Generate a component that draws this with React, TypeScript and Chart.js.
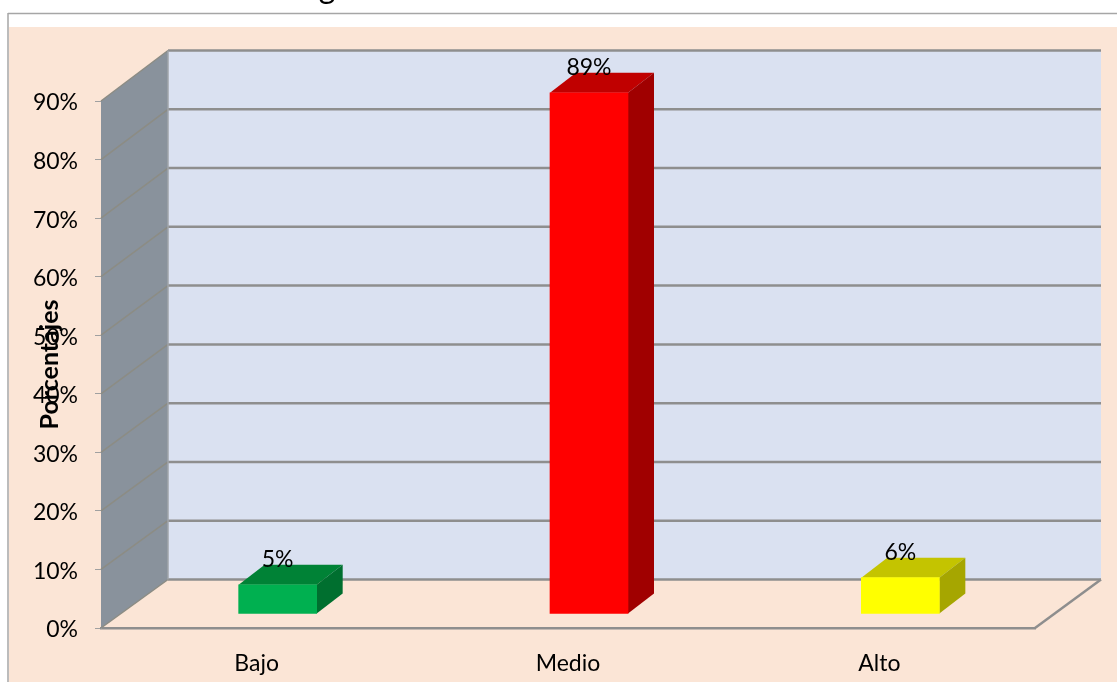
import React, { useEffect, useRef } from "react";
import { Chart, registerables } from "chart.js";

Chart.register(...registerables);

const categories = ["Bajo", "Medio", "Alto"];
const percentages = [5, 89, 6.2];
const yTicks = [0, 10, 20, 30, 40, 50, 60, 70, 80, 90];
const faceColors = ["#00b050", "#ff0000", "#ffff00"];
const topColors = ["#008236", "#c00000", "#c4c400"];
const sideColors = ["#006f2f", "#a00000", "#a6a600"];
const axisTitle = "Porcentajes";
const clippedTitleGlyph = "g";

const FONT = "Lato, 'Open Sans', sans-serif";
const PAGE_BG = "#ffffff";
const PEACH = "#fbe5d6";
const WALL = "#dae1f1";
const SIDE = "#89929c";
const GRID = "#8e8e8e";
const FRAME = "#a6a6a6";
const DEPTH_X = 67;
const BAR_DX = 21;
const BAR_DY = -14;
const BAR_DEPTH_X = 26;
const BAR_DEPTH_Y = -20;
const TICK_LABEL_SHIFT = 1;

const poly = (ctx: CanvasRenderingContext2D, pts: number[][], fill: string) => {
  ctx.beginPath();
  pts.forEach(([x, y], i) => (i ? ctx.lineTo(x, y) : ctx.moveTo(x, y)));
  ctx.closePath();
  ctx.fillStyle = fill;
  ctx.fill();
};

const line = (ctx: CanvasRenderingContext2D, a: number[], b: number[], color: string, w: number) => {
  ctx.beginPath();
  ctx.moveTo(a[0], a[1]);
  ctx.lineTo(b[0], b[1]);
  ctx.strokeStyle = color;
  ctx.lineWidth = w;
  ctx.stroke();
};

const scene = {
  id: "scene",
  beforeDraw(chart: any) {
    const { ctx, width, height } = chart;
    ctx.save();
    ctx.fillStyle = PAGE_BG;
    ctx.fillRect(0, 0, width, height);
    ctx.fillStyle = PEACH;
    ctx.fillRect(9, 27, width - 9, height - 27);
    line(ctx, [8, 13.5], [width, 13.5], FRAME, 1.5);
    line(ctx, [8, 13], [8, height], FRAME, 1.5);
    ctx.fillStyle = "#000";
    ctx.font = `32px ${FONT}`;
    ctx.textAlign = "center";
    ctx.textBaseline = "alphabetic";
    ctx.fillText(clippedTitleGlyph, 327, -2);
    ctx.restore();
  },
  beforeDatasetsDraw(chart: any) {
    const { ctx, chartArea, scales } = chart;
    const { left, right } = chartArea;
    const y = scales.y;
    const back = (v: number) => y.getPixelForValue(v) - 48.5 - (2 * v) / 90;
    const b0 = back(yTicks[0]);
    const bTop = back(yTicks[yTicks.length - 1]);
    const front0 = y.getPixelForValue(yTicks[0]);
    const frontTop = y.getPixelForValue(yTicks[yTicks.length - 1]);
    const backL = left + DEPTH_X;
    const backR = right + DEPTH_X - 1;

    ctx.save();
    poly(ctx, [[backL, bTop], [backR, bTop], [backR, b0], [backL, b0]], WALL);
    poly(ctx, [[left, frontTop], [backL, bTop], [backL, b0], [left, front0]], SIDE);
    yTicks.forEach((v) => {
      line(ctx, [left, y.getPixelForValue(v)], [backL, back(v)], "#8c8c84", 1.5);
      line(ctx, [backL, back(v)], [backR, back(v)], GRID, 2.5);
    });
    line(ctx, [backL, bTop], [backL, b0], "#a0a4aa", 1.5);
    line(ctx, [right, front0], [backR, b0], GRID, 2.5);

    const meta = chart.getDatasetMeta(0);
    meta.data.forEach((bar: any, i: number) => {
      const half = bar.width / 2;
      const l = bar.x - half + BAR_DX;
      const r = bar.x + half + BAR_DX;
      const t = bar.y + BAR_DY;
      const b = bar.base + BAR_DY;
      poly(ctx, [[l, t], [l + BAR_DEPTH_X, t + BAR_DEPTH_Y], [r + BAR_DEPTH_X, t + BAR_DEPTH_Y], [r, t]], topColors[i]);
      poly(ctx, [[r, t], [r + BAR_DEPTH_X, t + BAR_DEPTH_Y], [r + BAR_DEPTH_X, b + BAR_DEPTH_Y], [r, b]], sideColors[i]);
    });
    ctx.restore();

    ctx.save();
    ctx.translate(BAR_DX, BAR_DY);
  },
  afterDatasetsDraw(chart: any) {
    const { ctx } = chart;
    ctx.restore();
    const meta = chart.getDatasetMeta(0);
    ctx.save();
    ctx.fillStyle = "#000";
    ctx.font = `23px ${FONT}`;
    ctx.textAlign = "center";
    ctx.textBaseline = "middle";
    meta.data.forEach((bar: any, i: number) => {
      ctx.fillText(`${Math.round(percentages[i])}%`, bar.x + BAR_DX, bar.y + BAR_DY - 25);
    });
    ctx.restore();
  },
};

export default function App() {
  const ref = useRef<HTMLCanvasElement>(null);
  useEffect(() => {
    const chart = new Chart(ref.current!, {
      type: "bar",
      data: {
        labels: categories,
        datasets: [
          {
            data: percentages,
            backgroundColor: faceColors,
            borderWidth: 0,
            barThickness: 78,
            clip: false as any,
          },
        ],
      },
      options: {
        animation: false,
        responsive: false,
        layout: {
          autoPadding: false,
          padding: { left: 28, right: 82, top: 101, bottom: 0 },
        },
        plugins: { legend: { display: false }, tooltip: { enabled: false }, title: { display: false } },
        scales: {
          x: {
            afterFit: (s: any) => {
              s.height = 54;
            },
            grid: { display: false },
            border: { display: true, color: GRID, width: 2.5 },
            ticks: {
              color: "#000",
              font: { family: FONT, size: 23 },
              padding: 14,
              maxRotation: 0,
            },
          },
          y: {
            min: 0,
            max: 90,
            afterFit: (s: any) => {
              s.width = 73;
            },
            afterBuildTicks: (s: any) => {
              s.ticks = yTicks.map((value) => ({ value }));
            },
            afterUpdate: (s: any) => {
              const original = s.getLabelItems.bind(s);
              s.getLabelItems = (area: any) =>
                original(area).map((item: any) => ({
                  ...item,
                  options: {
                    ...item.options,
                    translation: [item.options.translation[0], item.options.translation[1] + TICK_LABEL_SHIFT],
                  },
                }));
            },
            grid: { drawOnChartArea: false, drawTicks: true, tickLength: 6, color: "#a0a0a0", lineWidth: 1 },
            border: { display: true, color: "#a0a0a0", width: 1 },
            title: {
              display: true,
              text: axisTitle,
              color: "#000",
              font: { family: FONT, size: 25, weight: "bold" },
              padding: { top: 7, bottom: 0 },
            },
            ticks: {
              color: "#000",
              padding: 17,
              font: { family: FONT, size: 23 },
              callback: (v: any) => `${v}%`,
            },
          },
        },
      },
      plugins: [scene],
    } as any);
    return () => chart.destroy();
  }, []);
  return (
    <div style={{ position: "absolute", left: 0, top: 0, width: 1117, height: 682 }}>
      <canvas ref={ref} width={1117} height={682} style={{ display: "block", width: 1117, height: 682 }} />
    </div>
  );
}
